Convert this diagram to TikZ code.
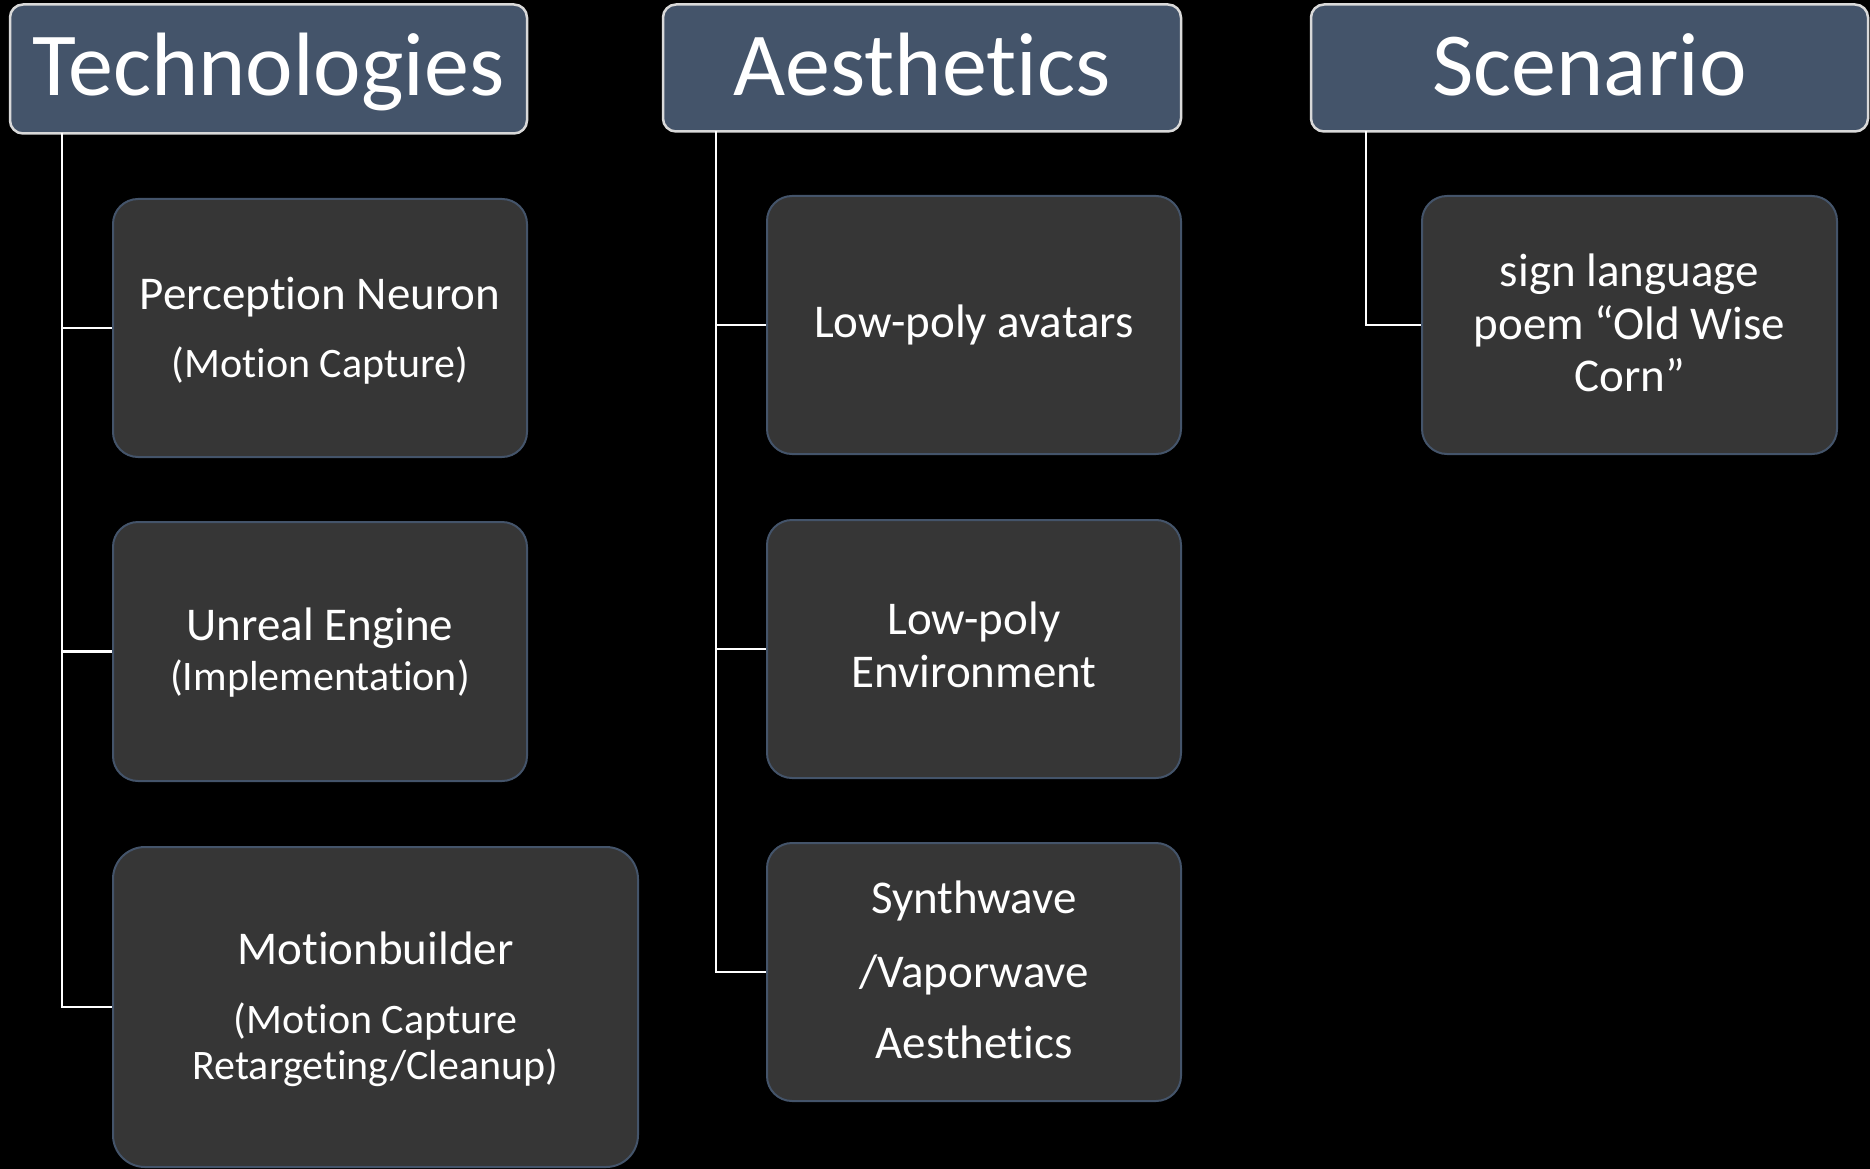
\documentclass[tikz,border=0pt]{standalone}
\usepackage{fontspec}
\setmainfont{Carlito}[RawFeature={-liga;-clig;-calt;-dlig;-hlig}]
\definecolor{hdr}{HTML}{44546A}
\definecolor{hdrline}{HTML}{D9D9D9}
\definecolor{kid}{HTML}{363636}
\tikzset{
 hdrbox/.style={draw=hdrline, line width=2.5pt, fill=hdr, rounded corners=13pt, inner sep=0pt},
 kidbox/.style={draw=hdr, line width=2pt, fill=kid, rounded corners=25pt, inner sep=0pt},
 link/.style={draw=white, line width=2.5pt},
 htxt/.style={text=white, font=\fontsize{90}{90}\selectfont, anchor=base, inner sep=0pt},
 ktxt/.style={text=white, font=\fontsize{47}{47}\selectfont, anchor=base, inner sep=0pt},
 stxt/.style={text=white, font=\fontsize{42}{42}\selectfont, anchor=base, inner sep=0pt},
}
\begin{document}
\begin{tikzpicture}[x=1pt,y=-1pt]
\fill[black] (0,0) rectangle (1870,1169);
\useasboundingbox (0,0) rectangle (1870,1169);

% headers
\node[hdrbox, minimum width=517pt, minimum height=129pt] (h1) at (268.5,69) {};
\node[hdrbox, minimum width=518pt, minimum height=127pt] (h2) at (922,68) {};
\node[hdrbox, minimum width=557pt, minimum height=127pt] (h3) at (1589.5,68) {};

% children
\node[kidbox, minimum width=414pt, minimum height=258pt] (k1a) at (320,328) {};
\node[kidbox, minimum width=414pt, minimum height=259pt] (k1b) at (320,651.5) {};
\node[kidbox, rounded corners=32pt, minimum width=525pt, minimum height=320pt] (k1c) at (375.5,1007) {};
\node[kidbox, minimum width=414pt, minimum height=258pt] (k2a) at (974,325) {};
\node[kidbox, minimum width=414pt, minimum height=258pt] (k2b) at (974,649) {};
\node[kidbox, minimum width=414pt, minimum height=258pt] (k2c) at (974,972) {};
\node[kidbox, minimum width=415pt, minimum height=258pt] (k3a) at (1629.5,325) {};

% connectors
\coordinate (c1) at (62,133.5);
\coordinate (c2) at (716,131.5);
\coordinate (c3) at (1366,131.5);
\draw[link] (c1) |- (k1a.west);
\draw[link] (c1) |- (k1b.west);
\draw[link] (c1) |- (k1c.west);
\draw[link] (c2) |- (k2a.west);
\draw[link] (c2) |- (k2b.west);
\draw[link] (c2) |- (k2c.west);
\draw[link] (c3) |- (k3a.west);

% header texts
\node[htxt] (t1) at (268.5,96) {Technologies};
\node[htxt] (t2) at (922,96) {Aesthetics};
\node[htxt] (t3) at (1589.5,96) {Scenario};

% child texts
\node[ktxt] (a1) at (320,309) {Perception Neuron};
\node[stxt] (a2) at (320,377) {(Motion Capture)};
\node[ktxt] (b1) at (320,640) {Unreal Engine};
\node[stxt] (b2) at (320,690) {(Implementation)};
\node[ktxt] (c1t) at (375.5,964) {Motionbuilder};
\node[stxt] (c2t) at (375.5,1033) {(Motion Capture};
\node[stxt] (c3t) at (375.5,1079) {Retargeting/Cleanup)};

\node[ktxt] (d1) at (974,337) {Low-poly avatars};
\node[ktxt] (e1) at (974,634) {Low-poly};
\node[ktxt] (e2) at (974,687) {Environment};
\node[ktxt] (f1) at (974,913) {Synthwave};
\node[ktxt] (f2) at (974,987) {/Vaporwave};
\node[ktxt] (f3) at (974,1058) {Aesthetics};

\node[ktxt] (g1) at (1629.5,286) {sign language};
\node[ktxt] (g2) at (1629.5,339) {poem “Old Wise};
\node[ktxt] (g3) at (1629.5,391) {Corn”};
\end{tikzpicture}
\end{document}
